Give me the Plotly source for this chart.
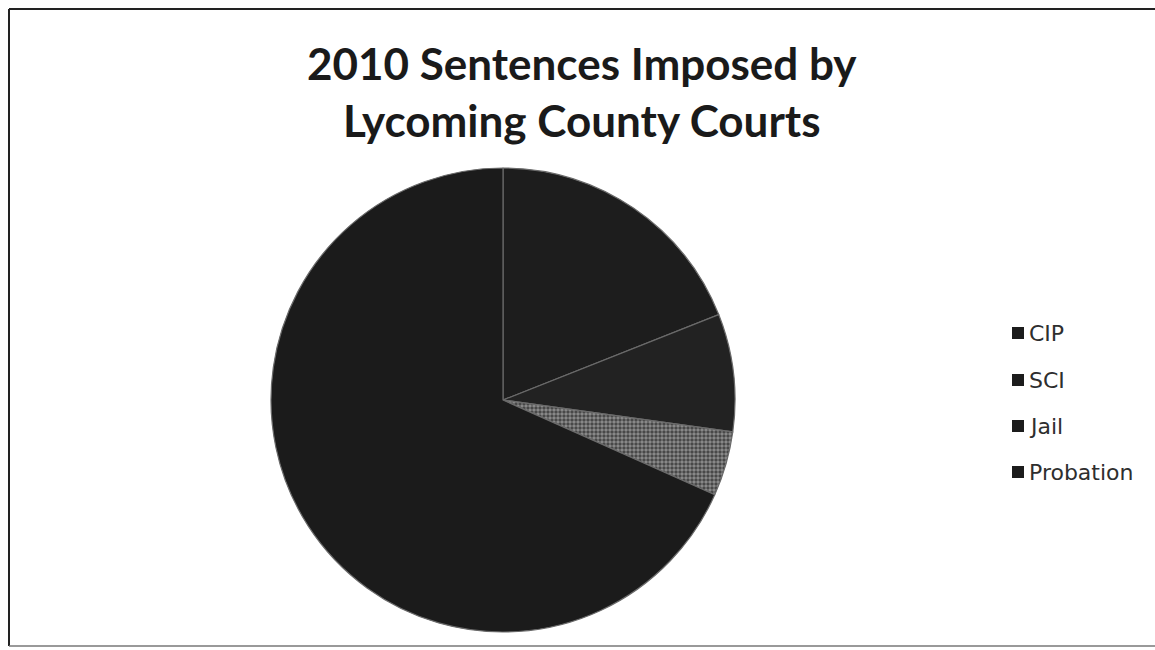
import plotly.graph_objects as go

labels = ["CIP", "SCI", "Jail", "Probation"]
values = [19.0, 8.2, 4.5, 68.3]
slice_colors = ["#1d1d1d", "#222222", "#404040", "#1b1b1b"]
pattern_shapes = ["", "", ".", ""]

W, H = 1155, 650

fig = go.Figure()
fig.add_trace(go.Pie(
    labels=labels,
    values=values,
    sort=False,
    direction="clockwise",
    rotation=0,
    textinfo="none",
    hoverinfo="label+percent",
    showlegend=False,
    marker=dict(
        colors=slice_colors,
        line=dict(color="#6a6a6a", width=1.2),
        pattern=dict(shape=pattern_shapes, fgcolor="#d0d0d0", size=4, solidity=0.6,
                     fillmode="overlay"),
    ),
    domain=dict(x=[(503 - 232) / W, (503 + 232) / W], y=[1 - 632 / H, 1 - 168 / H]),
))

top, left, bottom = 1 - 9 / H, 9 / W, 1 - 646 / H
shapes = [
    dict(type="line", xref="paper", yref="paper", x0=left, x1=1, y0=top, y1=top,
         line=dict(color="#222", width=2)),
    dict(type="line", xref="paper", yref="paper", x0=left, x1=left, y0=bottom, y1=top,
         line=dict(color="#222", width=2)),
    dict(type="line", xref="paper", yref="paper", x0=left, x1=1, y0=bottom, y1=bottom,
         line=dict(color="#777", width=1.5)),
]
annotations = [dict(text="<b>2010 Sentences Imposed by<br>Lycoming County Courts</b>",
                    x=582 / W, y=1 - 91 / H, xref="paper", yref="paper",
                    showarrow=False, font=dict(family="Lato", size=44, color="#1a1a1a"),
                    xanchor="center", yanchor="middle", align="center")]

legend_y = [333, 380, 426, 472]
for lab, ly in zip(labels, legend_y):
    shapes.append(dict(type="rect", xref="paper", yref="paper",
                       x0=1012 / W, x1=1024 / W, y0=1 - (ly + 6) / H, y1=1 - (ly - 6) / H,
                       fillcolor="#1c1c1c", line=dict(width=0)))
    annotations.append(dict(text=lab, x=1027 / W, y=1 - ly / H, xref="paper", yref="paper",
                            showarrow=False, xanchor="left", yanchor="middle",
                            font=dict(family="DejaVu Sans", size=22, color="#2e2e2e")))

fig.update_layout(
    width=W, height=H,
    margin=dict(l=0, r=0, t=0, b=0),
    paper_bgcolor="white",
    plot_bgcolor="white",
    shapes=shapes,
    annotations=annotations,
)

fig.write_html("out.html")
